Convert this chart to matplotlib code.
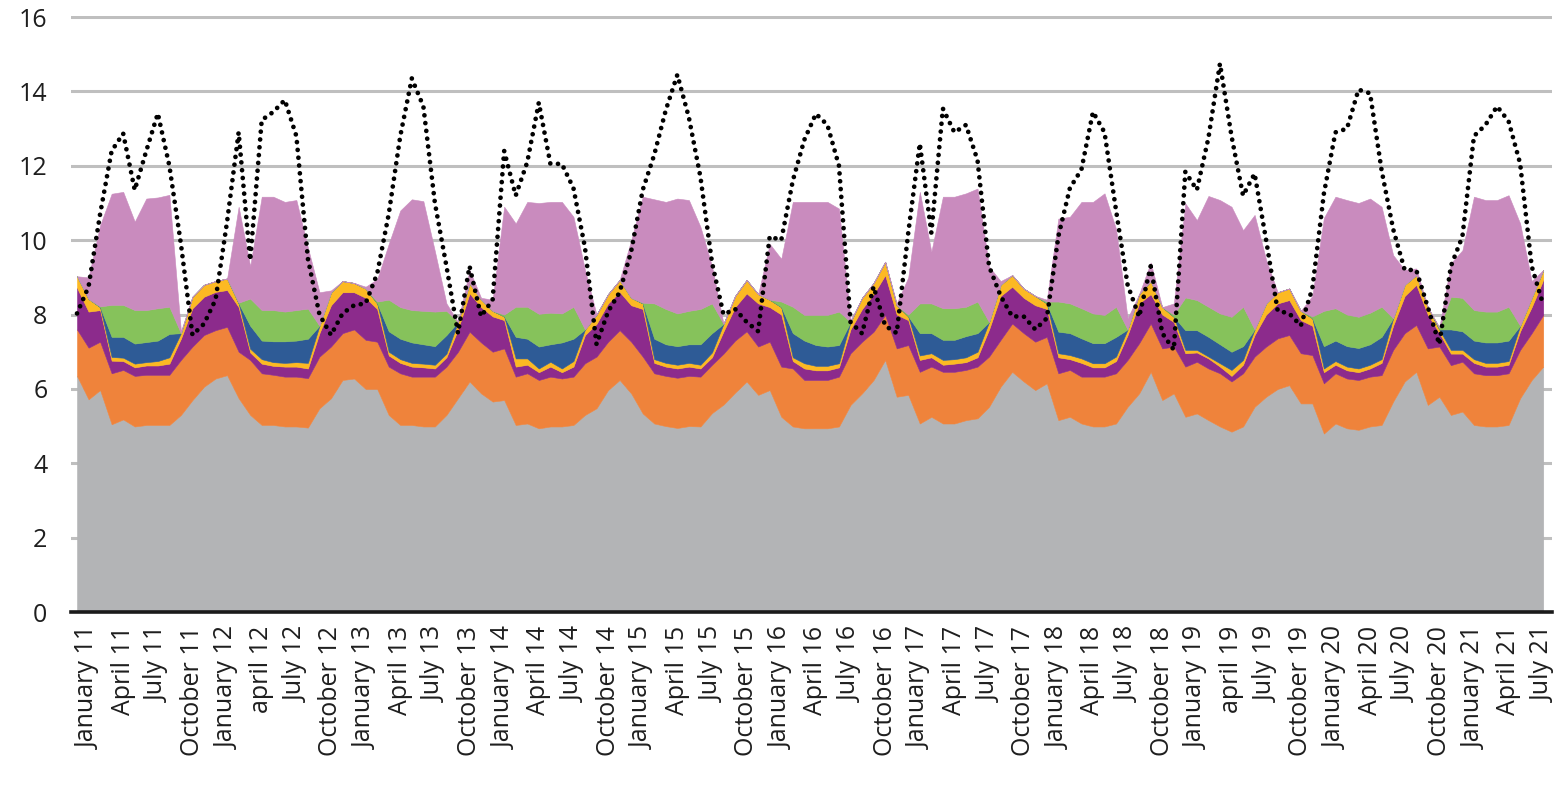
import matplotlib
matplotlib.use("Agg")
import matplotlib.pyplot as plt
import numpy as np

# monthly values, Dec 2010 .. Jul 2021 (128 points), stacked from the bottom
gray = [6.35,
        5.72, 5.97, 5.05, 5.18, 4.99, 5.03, 5.03, 5.03, 5.3, 5.7, 6.06, 6.28,
        6.37, 5.75, 5.3, 5.03, 5.03, 4.99, 4.99, 4.96, 5.48, 5.75, 6.24, 6.28,
        6.0, 6.0, 5.3, 5.03, 5.03, 4.99, 4.99, 5.3, 5.75, 6.2, 5.88, 5.66,
        5.7, 5.03, 5.07, 4.94, 4.99, 4.99, 5.03, 5.3, 5.48, 5.97, 6.24, 5.88,
        5.34, 5.07, 5.0, 4.95, 5.0, 4.99, 5.35, 5.58, 5.9, 6.2, 5.84, 5.97,
        5.25, 4.99, 4.94, 4.94, 4.94, 4.99, 5.57, 5.88, 6.24, 6.78, 5.79, 5.84,
        5.07, 5.25, 5.07, 5.07, 5.16, 5.21, 5.52, 6.06, 6.46, 6.2, 5.97, 6.15,
        5.16, 5.25, 5.07, 4.99, 4.99, 5.07, 5.52, 5.88, 6.46, 5.7, 5.88, 5.25,
        5.34, 5.16, 4.99, 4.85, 4.99, 5.52, 5.79, 6.0, 6.1, 5.61, 5.61, 4.8,
        5.07, 4.94, 4.9, 4.99, 5.03, 5.66, 6.2, 6.46, 5.57, 5.79, 5.3, 5.39,
        5.03, 4.99, 4.99, 5.03, 5.75, 6.24, 6.6]

orange = [1.25,
          1.39, 1.30, 1.37, 1.33, 1.36, 1.35, 1.35, 1.35, 1.48, 1.44, 1.39, 1.30,
          1.30, 1.25, 1.48, 1.39, 1.35, 1.34, 1.34, 1.33, 1.39, 1.39, 1.26, 1.32,
          1.32, 1.27, 1.30, 1.39, 1.30, 1.34, 1.34, 1.30, 1.25, 1.34, 1.37, 1.34,
          1.39, 1.30, 1.35, 1.30, 1.34, 1.29, 1.30, 1.39, 1.39, 1.30, 1.34, 1.39,
          1.53, 1.35, 1.35, 1.35, 1.35, 1.34, 1.30, 1.37, 1.40, 1.35, 1.30, 1.30,
          1.35, 1.56, 1.30, 1.30, 1.30, 1.34, 1.39, 1.39, 1.30, 1.21, 1.30, 1.34,
          1.39, 1.35, 1.39, 1.39, 1.35, 1.39, 1.35, 1.26, 1.30, 1.30, 1.30, 1.25,
          1.26, 1.26, 1.26, 1.34, 1.34, 1.35, 1.26, 1.35, 1.30, 1.39, 1.26, 1.35,
          1.39, 1.39, 1.43, 1.35, 1.43, 1.35, 1.35, 1.36, 1.35, 1.35, 1.30, 1.35,
          1.35, 1.34, 1.34, 1.34, 1.34, 1.39, 1.30, 1.26, 1.52, 1.35, 1.34, 1.34,
          1.39, 1.38, 1.38, 1.39, 1.30, 1.26, 1.39]

purple = [1.12,
          0.97, 0.85, 0.34, 0.24, 0.23, 0.25, 0.25, 0.30, 0.57, 1.03, 1.03, 1.03,
          0.99, 1.20, 0.20, 0.26, 0.24, 0.27, 0.27, 0.26, 0.63, 1.11, 1.10, 1.00,
          1.13, 0.88, 0.30, 0.28, 0.27, 0.25, 0.22, 0.25, 0.60, 1.03, 0.95, 0.95,
          0.76, 0.27, 0.23, 0.21, 0.27, 0.17, 0.27, 0.76, 0.88, 1.03, 1.03, 0.98,
          1.28, 0.28, 0.25, 0.25, 0.25, 0.22, 0.20, 0.60, 0.90, 1.02, 1.16, 0.93,
          1.40, 0.20, 0.31, 0.26, 0.26, 0.25, 0.64, 0.88, 1.01, 1.07, 0.91, 0.67,
          0.32, 0.25, 0.19, 0.22, 0.21, 0.25, 0.73, 1.18, 0.99, 0.95, 0.98, 0.75,
          0.43, 0.29, 0.37, 0.25, 0.25, 0.33, 0.67, 1.07, 0.79, 0.91, 0.66, 0.36,
          0.25, 0.27, 0.18, 0.15, 0.23, 0.58, 0.86, 0.94, 0.94, 0.89, 0.79, 0.30,
          0.23, 0.22, 0.21, 0.22, 0.33, 0.65, 1.00, 1.08, 0.91, 0.36, 0.31, 0.22,
          0.28, 0.23, 0.23, 0.23, 0.50, 0.70, 0.94]

yellow = [0.31,
          0.34, 0.08, 0.10, 0.09, 0.10, 0.09, 0.12, 0.17, 0.15, 0.31, 0.32, 0.29,
          0.31, 0.10, 0.10, 0.12, 0.10, 0.10, 0.12, 0.15, 0.20, 0.35, 0.30, 0.25,
          0.25, 0.15, 0.10, 0.10, 0.10, 0.10, 0.10, 0.10, 0.20, 0.27, 0.20, 0.15,
          0.10, 0.22, 0.17, 0.10, 0.13, 0.10, 0.15, 0.15, 0.25, 0.25, 0.32, 0.20,
          0.15, 0.10, 0.10, 0.10, 0.10, 0.10, 0.13, 0.20, 0.30, 0.36, 0.25, 0.20,
          0.20, 0.10, 0.14, 0.12, 0.12, 0.11, 0.20, 0.30, 0.30, 0.36, 0.25, 0.10,
          0.12, 0.11, 0.13, 0.12, 0.13, 0.15, 0.20, 0.30, 0.31, 0.25, 0.25, 0.15,
          0.11, 0.11, 0.12, 0.11, 0.11, 0.12, 0.15, 0.25, 0.35, 0.20, 0.14, 0.09,
          0.07, 0.05, 0.09, 0.16, 0.13, 0.15, 0.30, 0.30, 0.31, 0.25, 0.20, 0.10,
          0.10, 0.10, 0.10, 0.10, 0.10, 0.20, 0.30, 0.26, 0.20, 0.10, 0.10, 0.10,
          0.10, 0.10, 0.10, 0.10, 0.15, 0.25, 0.27]

blue = [0,
        0, 0, 0.54, 0.56, 0.54, 0.54, 0.55, 0.63, 0, 0, 0, 0,
        0, 0, 0.62, 0.50, 0.56, 0.58, 0.58, 0.65, 0, 0, 0, 0,
        0, 0, 0.55, 0.55, 0.55, 0.52, 0.50, 0.50, 0, 0, 0, 0,
        0, 0.58, 0.53, 0.59, 0.47, 0.70, 0.60, 0, 0, 0, 0, 0,
        0, 0.55, 0.50, 0.50, 0.50, 0.55, 0.52, 0, 0, 0, 0, 0,
        0, 0.65, 0.61, 0.56, 0.52, 0.49, 0, 0, 0, 0, 0, 0,
        0.60, 0.54, 0.54, 0.52, 0.57, 0.50, 0, 0, 0, 0, 0, 0,
        0.58, 0.59, 0.54, 0.54, 0.54, 0.53, 0, 0, 0, 0, 0, 0.53,
        0.53, 0.53, 0.51, 0.49, 0.37, 0, 0, 0, 0, 0, 0, 0.60,
        0.55, 0.55, 0.55, 0.55, 0.60, 0, 0, 0, 0, 0, 0.55, 0.50,
        0.50, 0.55, 0.55, 0.55, 0, 0, 0]

green = [0,
         0, 0.02, 0.86, 0.86, 0.90, 0.86, 0.87, 0.73, 0, 0, 0, 0,
         0, 0.02, 0.73, 0.82, 0.84, 0.80, 0.82, 0.81, 0, 0, 0, 0,
         0, 0.05, 0.85, 0.85, 0.87, 0.90, 0.93, 0.65, 0, 0, 0, 0,
         0.05, 0.81, 0.86, 0.88, 0.85, 0.78, 0.86, 0, 0, 0, 0, 0,
         0.02, 0.95, 0.95, 0.88, 0.90, 0.95, 0.80, 0, 0, 0, 0, 0,
         0.15, 0.71, 0.69, 0.81, 0.85, 0.90, 0, 0, 0, 0, 0, 0.05,
         0.80, 0.80, 0.85, 0.85, 0.79, 0.85, 0, 0, 0, 0, 0, 0.05,
         0.81, 0.80, 0.81, 0.80, 0.76, 0.81, 0, 0, 0, 0, 0.06, 0.88,
         0.81, 0.81, 0.83, 0.94, 1.06, 0, 0, 0, 0, 0, 0.05, 0.95,
         0.87, 0.85, 0.84, 0.85, 0.81, 0, 0, 0, 0, 0.05, 0.88, 0.90,
         0.82, 0.83, 0.83, 0.91, 0, 0, 0]

pink = [0,
        0.58, 2.18, 2.99, 3.04, 2.38, 3.00, 2.98, 3.01, 0.05, 0, 0, 0,
        0, 2.58, 0.87, 3.05, 3.05, 2.95, 2.96, 1.64, 0.90, 0.05, 0, 0,
        0.05, 0.60, 1.50, 2.60, 2.98, 2.95, 1.62, 0.20, 0, 0.36, 0.05, 0.30,
        2.90, 2.24, 2.82, 2.98, 2.98, 3.00, 2.42, 1.60, 0, 0, 0, 1.55,
        2.85, 2.80, 2.88, 3.09, 2.98, 2.21, 1.00, 0, 0, 0, 0, 1.50,
        1.15, 2.82, 3.04, 3.04, 3.04, 2.77, 0.05, 0, 0, 0, 0.05, 1.00,
        3.00, 1.39, 3.00, 3.00, 3.05, 3.04, 1.49, 0.10, 0, 0, 0, 0.05,
        2.23, 2.33, 2.86, 3.00, 3.27, 2.09, 0.30, 0, 0.50, 0, 0.30, 2.53,
        2.15, 2.98, 3.05, 2.96, 2.06, 3.08, 1.17, 0, 0, 0, 0.55, 2.50,
        3.00, 3.08, 3.06, 3.07, 2.69, 1.70, 0.40, 0.18, 0, 0, 0.90, 1.28,
        3.05, 3.00, 3.00, 3.00, 2.75, 0.45, 0]

# dotted line
demand = [8.03,
          8.75, 10.7, 12.4, 12.87, 11.35, 12.4, 13.41, 12.0, 9.9, 7.45, 7.75, 8.4,
          10.5, 12.9, 9.46, 13.23, 13.45, 13.77, 12.8, 9.5, 8.0, 7.45, 8.03, 8.25,
          8.3, 9.1, 10.7, 12.8, 14.35, 13.6, 11.0, 9.3, 7.5, 9.3, 7.95, 8.4,
          12.4, 11.2, 12.1, 13.7, 12.06, 12.05, 11.4, 9.8, 7.2, 8.08, 8.6, 9.7,
          11.35, 12.3, 13.5, 14.45, 13.3, 11.7, 9.4, 8.0, 8.15, 7.8, 7.55, 10.1,
          10.0, 11.6, 12.7, 13.4, 13.1, 12.0, 7.8, 7.49, 8.75, 7.7, 7.5, 10.2,
          12.6, 10.2, 13.54, 12.9, 13.1, 12.15, 9.3, 8.5, 7.95, 7.95, 7.6, 7.9,
          10.1, 11.4, 11.9, 13.45, 12.9, 10.8, 8.8, 7.94, 9.3, 7.5, 7.05, 11.84,
          11.35, 12.75, 14.75, 12.8, 11.2, 11.79, 10.0, 8.1, 8.03, 7.7, 8.7, 11.25,
          12.9, 13.0, 14.05, 13.95, 11.88, 10.3, 9.2, 9.2, 8.2, 7.2, 9.3, 10.1,
          12.8, 13.1, 13.6, 13.2, 12.06, 9.3, 8.26]

tick_labels = ["January 11", "April 11", "July 11", "October 11",
               "January 12", "april 12", "July 12", "October 12",
               "January 13", "April 13", "July 13", "October 13",
               "January 14", "April 14", "July 14", "October 14",
               "January 15", "April 15", "July 15", "October 15",
               "January 16", "April 16", "July 16", "October 16",
               "January 17", "April 17", "July 17", "October 17",
               "January 18", "April 18", "July 18", "October 18",
               "January 19", "april 19", "July 19", "October 19",
               "January 20", "April 20", "July 20", "October 20",
               "January 21", "April 21", "July 21"]

colors = ["#b3b4b6", "#ef833b", "#8c2b8c", "#fcb923", "#2e5b96", "#86c25b", "#c98bbe"]

plt.rcParams["font.family"] = ["Open Sans", "DejaVu Sans"]

fig = plt.figure(figsize=(15.59, 7.91), dpi=100)
ax = fig.add_axes([71 / 1559, 1 - 612 / 791, (1552 - 71) / 1559, (612 - 16) / 791])

x = np.arange(len(gray))
polys = ax.stackplot(x, gray, orange, purple, yellow, blue, green, pink, colors=colors)
for p, c in zip(polys, colors):
    p.set_edgecolor(c)
    p.set_linewidth(0.4)

# black dotted line on top of the areas
ax.plot(x, demand, color="black", lw=3.4, linestyle=(0, (0.01, 1.65)),
        dash_capstyle="round", zorder=5)

ax.set_xlim(-0.52, 127.76)
ax.set_ylim(0, 16.03)
ax.set_yticks(range(0, 17, 2))
ax.grid(axis="y", color="#bfbfbf", lw=2.2)
ax.set_axisbelow(True)

ax.set_xticks(x[1::3])
ax.set_xticklabels(tick_labels, rotation=90, fontsize=18, color="#1e1e1e")
ax.tick_params(axis="x", length=0, pad=10)
ax.tick_params(axis="y", length=0, pad=17, labelsize=18, labelcolor="#1e1e1e")

for side in ["top", "right", "left"]:
    ax.spines[side].set_visible(False)
ax.spines["bottom"].set_color("#1a1a1a")
ax.spines["bottom"].set_linewidth(2.6)
ax.spines["bottom"].set_zorder(6)

fig.savefig("out.png", dpi=100)
